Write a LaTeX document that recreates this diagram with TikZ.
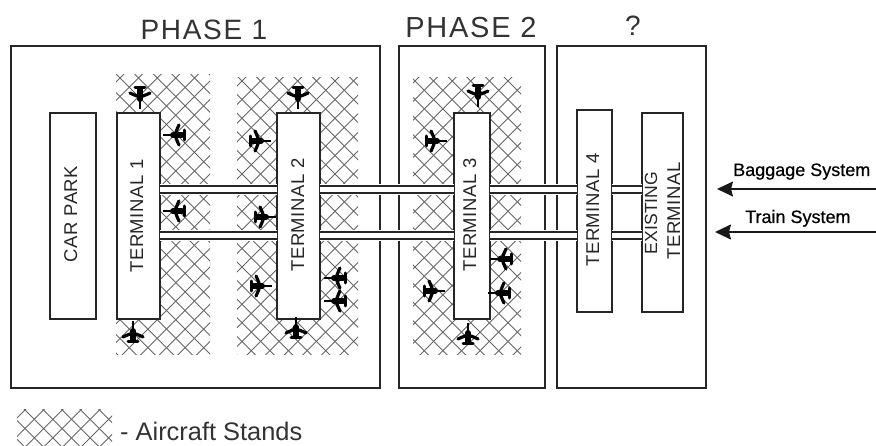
\documentclass[tikz,border=0pt]{standalone}
\usepackage{fontspec}
\setmainfont{Liberation Sans}
\usetikzlibrary{arrows.meta}
\newcommand{\hatchpatch}[6]{%
  \begin{scope}
    \clip (#1,#2) rectangle (#3,#4);
    \foreach \k in {-30,...,30}{
      \draw[hatchline] ({#5+18.6*\k-300},{#6-300}) -- ({#5+18.6*\k+300},{#6+300});
      \draw[hatchline] ({#5+18.6*\k-300},{#6+300}) -- ({#5+18.6*\k+300},{#6-300});
    }
  \end{scope}}
\newcommand{\railseg}[3]{%
  \draw[white,line width=11pt] (#1.east |- #3m) -- (#2.west |- #3m);
  \draw[boxline] (#1.east |- #3a) -- (#2.west |- #3a);
  \draw[boxline] (#1.east |- #3b) -- (#2.west |- #3b);}
\newcommand{\fsz}[2]{\fontsize{#1}{#1}\selectfont\addfontfeature{LetterSpace=#2}}
\tikzset{
  boxline/.style={draw=black!85,line width=2pt},
  hatchline/.style={draw=black!60,line width=0.9pt},
  phasebox/.style={boxline,outer sep=0pt,inner sep=0pt},
  termbox/.style={boxline,fill=white,outer sep=0pt,inner sep=0pt},
  vlabel/.style={rotate=90,anchor=base,inner sep=0pt,text=black!85,font=\fsz{18.5}{3}},
  title/.style={anchor=base,inner sep=0pt,text=black!80},
  small/.style={anchor=base west,inner sep=0pt,font=\fsz{18}{0}\addfontfeature{FakeBold=0.6}},
  feed/.style={draw=black!90,line width=1.8pt,-{Stealth[length=16pt,width=15pt,inset=2pt]}},
  plane/.pic={
    \draw[black,line width=1.4pt] (0,0) -- (0,13);
    \draw[black,line width=6pt,line cap=round] (0,-6) -- (0,3);
    \draw[black,line width=3.2pt,line cap=round] (-10,-3) .. controls (-6,-1) and (-3,0) .. (0,1) .. controls (3,0) and (6,-1) .. (10,-3);
    \draw[black,line width=3pt,line cap=round] (-5,-8) -- (5,-8);
  }
}
\begin{document}
\begin{tikzpicture}[x=1pt,y=-1pt]
\useasboundingbox (0,0) rectangle (876,446);
% phase boxes
\node[phasebox,minimum width=369pt,minimum height=342pt] (p1) at (195.5,217) {};
\node[phasebox,minimum width=146pt,minimum height=342pt] (p2) at (472,217) {};
\node[phasebox,minimum width=149pt,minimum height=342pt] (p3) at (631.5,217) {};
% aircraft stands
\hatchpatch{116}{75}{210}{355}{120}{78}
\hatchpatch{237}{78}{358}{355}{242}{81}
\hatchpatch{413}{78}{521}{355}{415}{81}
\hatchpatch{17}{410}{112}{446}{25}{410}
% terminals
\node[termbox,minimum width=46pt,minimum height=206pt] (car) at (73,216) {};
\node[termbox,minimum width=43pt,minimum height=206pt] (t1) at (138.5,216) {};
\node[termbox,minimum width=43pt,minimum height=206pt] (t2) at (298.5,216) {};
\node[termbox,minimum width=36pt,minimum height=206pt] (t3) at (472,216) {};
\node[termbox,minimum width=35pt,minimum height=202pt] (t4) at (594.5,211) {};
\node[termbox,minimum width=41pt,minimum height=199pt] (ex) at (662.5,212.5) {};
% rails
\coordinate (ra) at (0,186); \coordinate (rm) at (0,189.5); \coordinate (rb) at (0,193);
\coordinate (sa) at (0,232); \coordinate (sm) at (0,235.5); \coordinate (sb) at (0,239);
\railseg{t1}{t2}{r}\railseg{t2}{t3}{r}\railseg{t3}{t4}{r}\railseg{t4}{ex}{r}
\railseg{t1}{t2}{s}\railseg{t2}{t3}{s}\railseg{t3}{t4}{s}\railseg{t4}{ex}{s}
% labels
\node[title,font=\fsz{28}{6}] (l1) at (204,40) {PHASE 1};
\node[title,font=\fsz{29}{6}] (l2) at (471,38) {PHASE 2};
\node[title,font=\fsz{28}{0}] (l3) at (633,36) {?};
\node[vlabel] (lcar) at (77,214) {CAR PARK};
\node[vlabel] (lt1) at (143,216) {TERMINAL 1};
\node[vlabel] (lt2) at (304,215) {TERMINAL 2};
\node[vlabel] (lt3) at (476,215) {TERMINAL 3};
\node[vlabel] (lt4) at (599,210) {TERMINAL 4};
\node[vlabel,font=\fsz{17.6}{0}] (lex) at (657,213) {EXISTING};
\node[vlabel] (lte) at (680,211) {TERMINAL};
\node[small] (bag) at (733,176) {Baggage System};
\node[small] (tra) at (745,223) {Train System};
\node[anchor=base west,inner sep=0pt,text=black!80,font=\fsz{25.4}{0}] (leg) at (120,440) {- Aircraft Stands};
% feeds
\coordinate (ba) at (876,189); \coordinate (bb) at (717,189);
\coordinate (ta) at (876,232); \coordinate (tb) at (715,232);
\draw[feed] (ba) -- (bb);
\draw[feed] (ta) -- (tb);
% aircraft
\foreach \px/\py/\rot in {
  140/96/0, 176/135/-90, 176/211/-90, 133/334/180,
  298/96/0, 258/141/90, 263/217/90, 259/286/90,
  337/278/-90, 337/301/-90, 296/330/180,
  478/94/0, 434/141/90, 432/291/90,
  503/259/-90, 501/293/-90, 468/336/180}{
  \pic[shift={(\px,\py)},rotate=\rot] {plane};
}
\end{tikzpicture}
\end{document}
